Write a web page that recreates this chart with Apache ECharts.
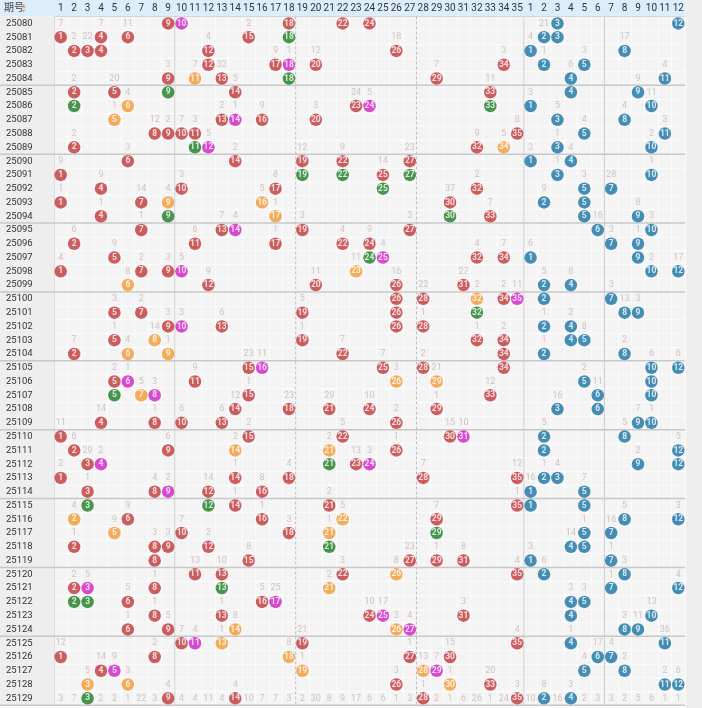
<!DOCTYPE html>
<html><head><meta charset="utf-8">
<script src="https://cdn.jsdelivr.net/npm/echarts@6/dist/echarts.min.js"></script>
<style>html,body{margin:0;padding:0;background:#fff}#c{width:702px;height:708px}</style>
</head><body><div id="c"></div><script>
const periods = ['25080','25081','25082','25083','25084','25085','25086','25087','25088','25089',
'25090','25091','25092','25093','25094','25095','25096','25097','25098','25099',
'25100','25101','25102','25103','25104','25105','25106','25107','25108','25109',
'25110','25111','25112','25113','25114','25115','25116','25117','25118','25119',
'25120','25121','25122','25123','25124','25125','25126','25127','25128','25129'];
const frontLabels = ['1','2','3','4','5','6','7','8','9','10','11','12','13','14','15','16','17','18','19','20','21','22','23','24','25','26','27','28','29','30','31','32','33','34','35'];
const backLabels = ['1','2','3','4','5','6','7','8','9','10','11','12'];
const frontDraws = [
[9,10,18,22,24],[1,4,6,15,18],[2,3,4,12,26],[12,17,18,20,34],[9,11,13,18,29],
[2,5,9,14,33],[2,6,23,24,33],[5,13,14,16,20],[8,9,10,11,35],[2,11,12,32,34],
[6,14,19,22,27],[1,19,22,25,27],[4,10,17,25,32],[1,7,9,16,30],[4,9,17,30,33],
[7,13,14,19,27],[2,11,17,22,24],[5,24,25,32,34],[1,7,9,10,23],[6,12,20,26,31],
[26,28,32,34,35],[5,7,19,26,32],[9,10,13,26,28],[5,8,19,32,34],[2,6,9,22,34],
[15,16,25,28,34],[5,6,11,26,29],[5,7,8,15,33],[14,18,21,24,29],[4,8,10,13,26],
[1,15,22,30,31],[2,9,14,21,26],[3,4,21,23,24],[1,14,18,28,35],[3,8,9,12,16],
[3,12,14,21,35],[2,6,16,22,29],[5,10,18,21,29],[2,8,9,12,21],[8,15,27,29,31],
[11,13,22,26,35],[2,3,8,13,21],[2,3,6,16,17],[8,13,24,25,31],[6,9,14,26,27],
[10,11,13,19,35],[1,8,18,27,30],[4,5,19,28,29],[3,6,26,30,33],[3,9,14,28,35]];
// r = red, m = magenta, g = green, o = orange
const frontColors = [
'rmrrr','rrrrg','rrrrr','rrmrr','rorgr','rrgrr','gormg','ormrr','rrrrr','rgmro',
'rrrrr','rggrg','rrrgr','rroor','rgogr','rrmrr','rrrrr','rgmrr','rrrmo','orrrr',
'rrorm','rrrrg','rmrrr','rorrr','roorr','rmrrr','rmroo','gomrr','rrrrr','rrrrr',
'rrrrm','rroor','rmgrm','rrrrr','rrmrr','ggrrr','orror','orrog','rrrrg','rrrrr',
'rrror','rmrgo','ggrrm','rrrmr','rroom','rmorr','rrorr','rmoom','ooror','grrrr'];
const backDraws = [
[3,12],[2,3],[1,8],[2,5],[4,11],[4,9],[1,10],[3,8],[5,11],[3,10],
[1,4],[3,10],[5,7],[2,5],[5,9],[6,10],[7,9],[1,9],[10,12],[2,4],
[2,7],[8,9],[2,4],[4,5],[2,8],[10,12],[5,10],[6,10],[3,6],[9,10],
[2,8],[2,12],[9,12],[2,3],[1,5],[1,5],[8,12],[5,7],[4,5],[1,7],
[2,8],[7,12],[4,5],[4,10],[8,9],[4,11],[6,7],[5,8],[11,12],[2,4]];
// omission counts shown: [number, count]
const frontMiss = [
[[1,7],[4,7],[6,11],[15,2]],
[[2,2],[3,22],[12,4],[26,18]],
[[17,9],[18,1],[20,12],[34,3]],
[[9,3],[11,7],[13,32],[29,7]],
[[2,2],[5,20],[14,5],[33,11]],
[[6,4],[23,24],[24,5]],
[[5,1],[13,2],[14,1],[16,9],[20,3]],
[[8,12],[9,2],[10,7],[11,3],[35,8]],
[[2,2],[12,5],[32,9],[34,5]],
[[6,3],[14,2],[19,12],[22,9],[27,23]],
[[1,9],[25,14]],
[[4,9],[10,3],[17,8],[32,2]],
[[1,1],[7,14],[9,4],[16,5],[30,37]],
[[4,1],[17,1],[33,7]],
[[7,1],[13,7],[14,4],[19,3],[27,3]],
[[2,6],[11,6],[17,1],[22,4],[24,9]],
[[5,9],[25,4],[32,4],[34,7]],
[[1,4],[7,2],[9,3],[10,5],[23,11]],
[[6,8],[12,9],[20,11],[26,16],[31,27]],
[[28,22],[32,2],[34,2],[35,11]],
[[5,3],[7,2],[19,5]],
[[9,3],[10,3],[13,6],[28,1]],
[[5,1],[8,14],[19,1],[32,1],[34,2]],
[[2,7],[6,4],[9,1],[22,7]],
[[15,23],[16,11],[25,7],[28,2]],
[[5,2],[6,1],[11,9],[26,3],[29,21]],
[[7,5],[8,3],[15,1],[33,12]],
[[14,12],[18,23],[21,29],[24,10],[29,1]],
[[4,14],[8,1],[10,6],[13,6],[26,2]],
[[1,11],[15,2],[22,5],[30,15],[31,10]],
[[2,6],[9,6],[14,2],[21,2],[26,1]],
[[3,29],[4,2],[23,13],[24,3]],
[[1,2],[14,1],[18,4],[28,7],[35,12]],
[[3,1],[8,4],[9,2],[12,14],[16,8]],
[[14,1],[21,2],[35,1]],
[[2,4],[6,9],[16,1],[22,5],[29,7]],
[[5,9],[10,7],[18,3],[21,1]],
[[2,1],[8,3],[9,3],[12,2]],
[[15,8],[27,23],[29,1],[31,8]],
[[11,13],[13,10],[22,3],[26,8],[35,4]],
[[2,2],[3,5],[8,1],[21,2]],
[[6,5],[16,5],[17,25]],
[[8,1],[13,1],[24,10],[25,17],[31,3]],
[[6,1],[9,5],[14,8],[26,3],[27,4]],
[[10,7],[11,4],[13,1],[19,21],[35,4]],
[[1,12],[8,2],[18,8],[27,1],[30,15]],
[[4,14],[5,9],[19,1],[28,13],[29,7]],
[[3,5],[6,3],[26,3],[30,1],[33,20]],
[[9,4],[14,4],[28,1],[35,3]],
[[1,3],[2,7],[4,2],[5,2],[6,1],[7,22],[8,3],[10,4],[11,4],[12,11],[13,4],[15,10],[16,7],[17,7],[18,3],[19,2],[20,30],[21,8],[22,9],[23,17],[24,6],[25,6],[26,1],[27,3],[29,2],[30,1],[31,6],[32,26],[33,1],[34,24]]];
const backMiss = [
[[2,21]],[[1,4],[8,17]],[[2,1],[5,3]],[[4,6],[11,4]],[[9,9]],
[[1,3],[10,11]],[[3,5],[8,4]],[[5,4],[11,3]],[[3,1],[10,2]],[[1,3],[4,4]],
[[3,1],[10,1]],[[5,3],[7,28]],[[2,9]],[[9,8]],[[6,16],[10,3]],
[[7,3],[9,1]],[[1,6]],[[10,2],[12,17]],[[2,5],[4,8]],[[7,3]],
[[8,13],[9,3]],[[2,1],[4,2]],[[5,8]],[[2,1],[8,2]],[[10,6],[12,6]],
[[5,2]],[[6,11]],[[3,16]],[[9,7],[10,1]],[[2,5],[8,5]],
[[12,5]],[[9,2]],[[2,1],[3,4]],[[1,16],[5,7]],[],
[[8,5],[12,3]],[[5,1],[7,16]],[[4,14]],[[1,3],[7,1]],[[2,6],[8,3]],
[[7,1],[12,4]],[[4,3],[5,3]],[[10,13]],[[8,3],[9,11]],[[4,1],[11,36]],
[[6,17],[7,4]],[[5,4],[8,2]],[[11,2],[12,6]],[[2,8],[4,3]],
[[1,10],[3,16],[5,2],[6,3],[7,3],[8,2],[9,5],[10,6],[11,1],[12,1]]];

const COLORS = {r:'#c2373a', m:'#d01ec6', g:'#1b7d22', o:'#f39a33', b:'#1874a6'};
const NF = frontLabels.length;
const xCats = frontLabels.map(s => 'F' + s).concat(backLabels.map(s => 'B' + s));

const ballData = [];
const missData = [];
periods.forEach((p, r) => {
  frontDraws[r].forEach((n, k) => {
    ballData.push({value: [n - 1, r], num: n, itemStyle: {color: COLORS[frontColors[r][k]]}});
  });
  backDraws[r].forEach(n => {
    ballData.push({value: [NF + n - 1, r], num: n, itemStyle: {color: COLORS.b}});
  });
  frontMiss[r].forEach(([n, v]) => missData.push({value: [n - 1, r], txt: v}));
  backMiss[r].forEach(([n, v]) => missData.push({value: [NF + n - 1, r], txt: v}));
});

// separators: [colIndex, rowIndex, kind] kind 0=solid vertical after col, 1=dashed vertical, 2=horizontal after row
const sepData = [[8,0,0],[17,0,1],[26,0,1],[34,0,0],[40,0,0]];
for (let r = 4; r < periods.length; r += 5) sepData.push([0, r, 2]);

const FONT = 'Roboto, "Noto Sans", sans-serif';
const chart = echarts.init(document.getElementById('c'), null, {renderer: 'canvas'});
chart.setOption({
  animation: false,
  backgroundColor: '#ffffff',
  grid: {left: 54, right: 17, top: 16.5, bottom: 2.8, show: true, backgroundColor: '#f4f4f4', borderWidth: 0},
  graphic: [
    {type: 'rect', z: -10, shape: {x: 0, y: 0, width: 685, height: 16.5}, style: {fill: '#dcedfb'}},
    {type: 'rect', z: -10, shape: {x: 0, y: 16.5, width: 54, height: 689}, style: {fill: '#eeeeee'}},
    {type: 'rect', z: -10, shape: {x: 685, y: 0, width: 17, height: 708}, style: {fill: '#eeeeee'}},
    {type: 'text', left: 4, top: 2.5, style: {text: '期号', fill: '#444', fontSize: 10, fontFamily: '"Noto Sans CJK SC", sans-serif'}},
    {type: 'polygon', shape: {points: [[21.5,7.5],[23.5,4],[25.5,7.5]]}, style: {fill: '#f08a24'}},
    {type: 'polygon', shape: {points: [[21.5,9.5],[23.5,13],[25.5,9.5]]}, style: {fill: '#b8b8b8'}}
  ],
  xAxis: {
    type: 'category', position: 'top', data: xCats,
    axisLine: {show: true, lineStyle: {color: '#d6d6d6'}},
    axisTick: {show: false},
    axisLabel: {interval: 0, margin: 3, color: '#333', fontSize: 10, fontFamily: FONT, formatter: v => v.slice(1)},
    splitLine: {show: true, interval: 0, lineStyle: {color: '#fbfbfb', width: 1}}
  },
  yAxis: {
    type: 'category', inverse: true, data: periods,
    axisLine: {show: true, lineStyle: {color: '#dddddd'}},
    axisTick: {show: false},
    axisLabel: {interval: 0, align: 'left', margin: 48, color: '#333', fontSize: 9.5, fontFamily: FONT},
    splitLine: {show: true, interval: 0, lineStyle: {color: '#fbfbfb', width: 1}}
  },
  series: [
    {
      type: 'custom', z: 1, clip: false, data: sepData,
      renderItem: function (params, api) {
        const cs = params.coordSys;
        const kind = api.value(2);
        if (kind === 2) {
          const y = api.coord([0, api.value(1)])[1] + api.size([0, 1])[1] / 2;
          return {type: 'line', shape: {x1: 0, y1: y, x2: cs.x + cs.width, y2: y}, style: {stroke: '#c8c8c8', lineWidth: 1.5}};
        }
        const x = api.coord([api.value(0), 0])[0] + api.size([1, 0])[0] / 2;
        return {type: 'line', shape: {x1: x, y1: cs.y, x2: x, y2: cs.y + cs.height},
          style: {stroke: kind === 1 ? '#bdbdbd' : '#cfcfcf', lineWidth: 1, lineDash: kind === 1 ? [3, 2] : null}};
      }
    },
    {
      type: 'scatter', z: 3, data: missData, symbolSize: 2, itemStyle: {color: 'rgba(0,0,0,0)'},
      label: {show: true, position: 'inside', formatter: p => String(p.data.txt), color: '#c9b5b5', fontSize: 9, fontFamily: FONT}
    },
    {
      type: 'scatter', z: 4, data: ballData, symbol: 'circle', symbolSize: 12.5,
      label: {show: true, position: 'inside', formatter: p => String(p.data.num), color: '#ffffff', fontSize: 8.5, fontWeight: 'bold', fontFamily: FONT}
    }
  ]
});
</script></body></html>
